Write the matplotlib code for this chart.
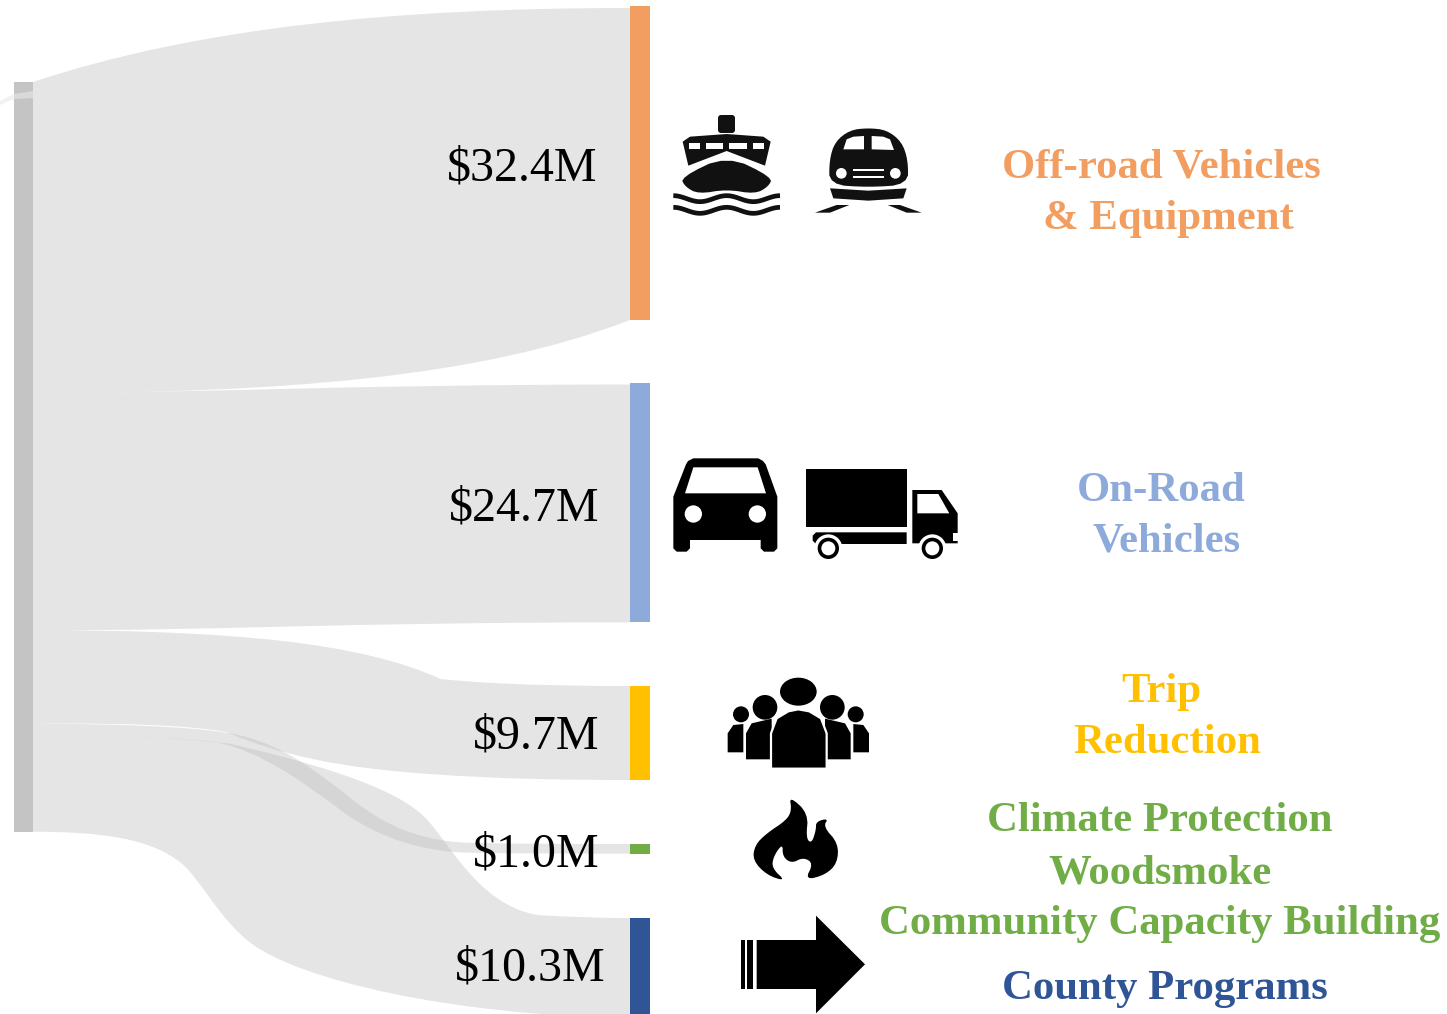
"""Funding Sankey: one source bar splitting into five program bars, with icons and labels."""

import numpy as np
import matplotlib
matplotlib.use("Agg")
import matplotlib.pyplot as plt
from matplotlib.patches import Circle, Ellipse, PathPatch, Polygon, Rectangle, FancyBboxPatch
from matplotlib.path import Path

plt.rcParams["font.family"] = ["Liberation Serif", "DejaVu Serif"]

categories = ["Off-road Vehicles & Equipment", "On-Road Vehicles", "Trip Reduction",
              "Climate Protection Woodsmoke Community Capacity Building", "County Programs"]
funding = [32.4, 24.7, 9.7, 1.0, 10.3]
amount_labels = ["$32.4M", "$24.7M", "$9.7M", "$1.0M", "$10.3M"]
node_colors = ["#F29E61", "#8EAADB", "#FFC000", "#70AD47", "#2F5597"]
label_lines = [["Off-road Vehicles", "& Equipment"], ["On-Road", "Vehicles"], ["Trip", "Reduction"],
               ["Climate Protection", "Woodsmoke", "Community Capacity Building"], ["County Programs"]]

# layout, in pixels of the 1447x1014 canvas
SRC_X = (14, 33)
DST_X = (630, 650)
SRC_TOP = 82
SRC_SCALE = 9.6    # px per $M on the source bar
DST_SCALE = 9.69   # px per $M on the program bars
DST_TOPS = [6, 383, 686, 844, 918]
BAND_INSET = [2, 1.5, 0, 0, 0]
AMOUNT_POS = [(522, 169), (524, 509), (536, 736), (536, 855), (530, 969)]
LABEL_POS = [[(1161, 168), (1168, 219)], [(1161, 491), (1167, 542)], [(1161, 692), (1167, 743)],
             [(1160, 821), (1160, 873), (1160, 924)], [(1165, 989)]]

# bezier control points of each band edge, as fractions of the edge's dx, dy
UPPER = [
    [(.28, .75), (.615, 1), (1, 1)],
    [(.28, 0), (.53, 1), (1, 1)],
    [(.33, 0), (.548, .214), (.683, .875), (.732, .929), (.816, 1), (1, 1)],
    [(.146, .008), (.263, .025), (.33, .083), (.414, .157), (.472, .388), (.536, .636),
     (.59, .843), (.648, .992), (.749, .992), (.85, 1), (.93, 1), (1, 1)],
    [(.146, .011), (.263, .027), (.33, .059), (.447, .146), (.59, .27), (.648, .432),
     (.69, .535), (.739, .93), (.846, .984), (.9, .995), (.95, 1), (1, 1)],
]
LOWER = [
    [(.41, 0), (.75, .205), (1, 1)],
    [(.31, -.1), (.50, 1), (1, 1)],
    [(.162, 0), (.263, .035), (.325, .158), (.414, .561), (.514, .789), (.665, .895),
     (.782, .982), (.883, 1), (1, 1)],
    [(.146, .017), (.246, .041), (.312, .083), (.38, .157), (.447, .388), (.508, .612),
     (.556, .802), (.632, .983), (.732, .992), (.85, 1), (.93, 1), (1, 1)],
    [(.112, 0), (.196, .033), (.248, .168), (.28, .25), (.313, .478), (.367, .603),
     (.447, .793), (.698, .989), (1, 1)],
]

fig = plt.figure(figsize=(14.47, 10.14), dpi=100)
ax = fig.add_axes([0, 0, 1, 1])
ax.set_xlim(0, 1447)
ax.set_ylim(1014, 0)
ax.axis("off")


def edge(y0, y1, fracs):
    x0, dx = SRC_X[1], DST_X[0] - SRC_X[1]
    return [(x0, y0)] + [(x0 + fx * dx, y0 + fy * (y1 - y0)) for fx, fy in fracs]


def draw_band(upper, lower, color="#bcbcbc", alpha=0.385):
    verts = upper + [lower[-1]] + lower[-2::-1] + [upper[0]]
    codes = ([Path.MOVETO] + [Path.CURVE4] * (len(upper) - 1) + [Path.LINETO]
             + [Path.CURVE4] * (len(lower) - 1) + [Path.CLOSEPOLY])
    ax.add_patch(PathPatch(Path(verts, codes), fc=color, ec="none", alpha=alpha, zorder=1))


# sliver of the upstream flow, cut off by the left edge of the picture
ax.add_patch(Polygon([(0, 101), (14, 94), (33, 91), (33, 98), (14, 99), (0, 105)],
                     fc="#e8e8e8", ec="none", alpha=0.6, zorder=3))

# bands and nodes, sized from the funding values
src_edges = SRC_TOP + np.concatenate([[0], np.cumsum(funding)]) * SRC_SCALE
for i, value in enumerate(funding):
    top, bottom = DST_TOPS[i], DST_TOPS[i] + value * DST_SCALE
    draw_band(edge(src_edges[i], top + BAND_INSET[i], UPPER[i]), edge(src_edges[i + 1], bottom, LOWER[i]))
    ax.add_patch(Rectangle((DST_X[0], top), DST_X[1] - DST_X[0], bottom - top,
                           fc=node_colors[i], ec="none", zorder=4))
    ax.text(*AMOUNT_POS[i], amount_labels[i], fontsize=34.6, color="black", ha="center",
            va="center", parse_math=False, zorder=6)
    for line, pos in zip(label_lines[i], LABEL_POS[i]):
        ax.text(*pos, line, fontsize=30.8, fontweight="bold", color=node_colors[i], ha="center",
                va="center", parse_math=False, zorder=6)
ax.add_patch(Rectangle((SRC_X[0], SRC_TOP), SRC_X[1] - SRC_X[0], src_edges[-1] - SRC_TOP,
                       fc="#c4c4c4", ec="none", zorder=2))


def mapper(ox, oy):
    return lambda pts: [(ox + x / 3, oy + y / 3) for x, y in pts]


def poly(m, pts, color="black", z=7, **kw):
    ax.add_patch(Polygon(m(pts), fc=color, ec=kw.pop("ec", "none"), zorder=z, joinstyle="round", **kw))


def disc(m, x, y, r, color="black", z=7):
    ax.add_patch(Circle(m([(x, y)])[0], r / 3, fc=color, ec="none", zorder=z))


def chaikin(pts, rounds=3):
    pts = np.asarray(pts, float)
    for _ in range(rounds):
        nxt = np.roll(pts, -1, axis=0)
        pts = np.column_stack([.75 * pts + .25 * nxt, .25 * pts + .75 * nxt]).reshape(-1, 2)
    return pts.tolist()


DARK = "#111111"

# ship
m = mapper(660, 100)
ax.add_patch(FancyBboxPatch((718, 115), 17, 18, boxstyle="round,pad=0,rounding_size=3", fc=DARK,
                            ec="none", zorder=7))
poly(m, [(68, 125), (90, 110), (200, 102), (310, 110), (332, 125), (315, 197), (200, 153), (85, 197)], DARK)
for x0, x1 in [(88, 120), (138, 190), (208, 262), (280, 312)]:
    poly(m, [(x0, 128), (x1, 128), (x1, 146), (x0, 146)], "white", 8)
poly(m, chaikin([(62, 232), (200, 166), (338, 232), (325, 260), (285, 282), (200, 268), (115, 282), (75, 260)], 2), DARK)
wave_x = np.linspace(40, 360, 80)
for wave_y in (296, 331):
    ax.plot(*zip(*m(zip(wave_x, wave_y + 9 * np.cos((wave_x - 40) / 160 * 2 * np.pi + np.pi)))),
            color=DARK, lw=3.4, solid_capstyle="butt", zorder=7)

# front of the small car on the road
poly(m, chaikin([(508, 254), (508, 180), (525, 125), (570, 90), (625, 84), (680, 90), (725, 125), (744, 180),
                 (744, 254), (625, 262)], 2), DARK)
poly(m, [(550, 148), (560, 118), (580, 110), (612, 108), (612, 148)], "white", 8)
poly(m, [(635, 148), (635, 108), (670, 110), (690, 118), (702, 150)], "white", 8)
disc(m, 544, 220, 16, "white", 8)
disc(m, 706, 220, 16, "white", 8)
poly(m, [(578, 207), (672, 207), (672, 214), (578, 214)], "white", 8)
poly(m, [(578, 228), (672, 228), (672, 235), (578, 235)], "white", 8)
poly(m, [(510, 265), (625, 272), (740, 265), (730, 295), (625, 302), (520, 295)], DARK)
poly(m, [(465, 338), (530, 315), (568, 315), (510, 338)], DARK)
poly(m, [(785, 338), (720, 315), (683, 315), (740, 338)], DARK)

# car
m = mapper(660, 445)
poly(m, [(40, 155), (78, 58), (84, 48), (100, 40), (295, 40), (309, 48), (317, 58), (352, 155), (352, 310), (342, 320),
         (312, 320), (302, 310), (302, 285), (90, 285), (90, 310), (80, 320), (50, 320), (40, 310)])
poly(m, [(75, 145), (100, 67), (293, 67), (318, 145)], "white", 8)
disc(m, 100, 207, 26, "white", 8)
disc(m, 292, 207, 26, "white", 8)

# truck
poly(m, [(438, 72), (740, 72), (740, 247), (438, 247)])
poly(m, [(458, 272), (468, 262), (740, 262), (740, 297), (468, 297), (458, 287)])
poly(m, [(757, 135), (845, 135), (893, 205), (893, 295), (757, 295)])
poly(m, [(772, 147), (835, 147), (868, 205), (772, 205)], "white", 8)
poly(m, [(878, 265), (893, 265), (893, 287), (878, 287)], "white", 8)
for wx in (505, 817):
    disc(m, wx, 310, 42, "white", 8)
    disc(m, wx, 310, 32, "black", 9)
    disc(m, wx, 310, 21, "white", 10)

# people
m = mapper(710, 670)
cx, cy = m([(265, 65)])[0]
ax.add_patch(Ellipse((cx, cy), 110 / 3, 84 / 3, fc="black", ec="none", zorder=7))
for hx, hy, r in [(165, 112, 37), (367, 112, 37), (93, 133, 24), (437, 133, 24)]:
    disc(m, hx, hy, r)
for side in (0, 1):
    flip = (lambda pts: pts) if side == 0 else (lambda pts: [(530 - x, y) for x, y in pts])
    poly(m, flip([(53, 247), (53, 190), (70, 165), (100, 162), (100, 247)]))
    poly(m, flip([(108, 268), (108, 190), (125, 160), (185, 146), (185, 268)]))
poly(m, [(183, 296), (183, 190), (200, 145), (235, 124), (265, 118), (298, 124), (333, 145), (350, 190),
         (350, 296)], "black", 9, ec="white", lw=1.6)

# flame
flame = chaikin([(238, 378), (295, 430), (288, 505), (305, 520), (318, 480), (318, 455), (355, 445), (340, 470),
                 (385, 520), (382, 580), (345, 615), (285, 630), (310, 580), (280, 562), (245, 580), (218, 560),
                 (218, 520), (190, 560), (186, 595), (228, 634), (170, 615), (128, 570), (135, 525), (170, 490),
                 (230, 450), (245, 420)], 2)
poly(m, flame)

# arrow
m = mapper(730, 905)
poly(m, [(33, 105), (45, 105), (45, 252), (33, 252)])
poly(m, [(52, 105), (70, 105), (70, 252), (52, 252)])
poly(m, [(80, 105), (258, 105), (258, 32), (405, 178), (258, 325), (258, 252), (80, 252)])

fig.savefig("out.png", dpi=100)
